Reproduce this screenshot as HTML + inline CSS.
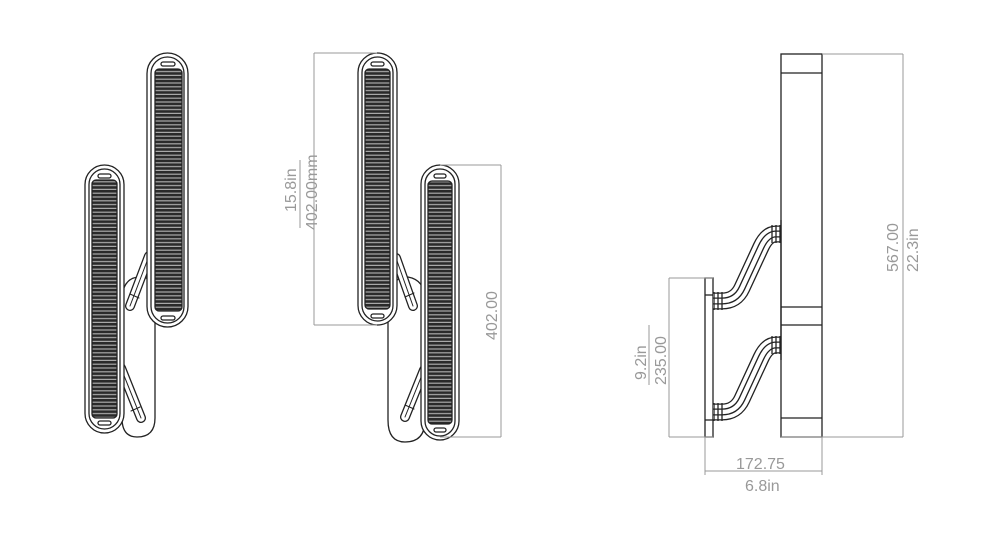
<!DOCTYPE html>
<html><head><meta charset="utf-8"><style>
html,body{margin:0;padding:0;background:#fff;}
svg{display:block;}
text{font-family:"Liberation Sans",sans-serif;fill:#999;}
</style></head><body>
<svg width="1000" height="533" viewBox="0 0 1000 533" xmlns="http://www.w3.org/2000/svg">
<defs>
<pattern id="rib" x="0" y="0" width="10" height="3.8" patternUnits="userSpaceOnUse">
<rect width="10" height="3.8" fill="#aaa"/>
<rect y="0" width="10" height="2.6" fill="#2a2a2a"/>
</pattern>
</defs>
<g fill="none" stroke="#222" stroke-width="1.3">
<!-- LEFT VIEW -->
<path d="M122 295 Q125 277 140 277 Q155 277 155 295 L155 418 Q155 437 137 437 Q122 437 122 418 Z" fill="#fff"/>
<g stroke-linecap="round">
<line x1="149" y1="256" x2="130" y2="306" stroke="#222" stroke-width="10"/>
<line x1="149" y1="256" x2="130" y2="306" stroke="#fff" stroke-width="7.4"/>
<line x1="149" y1="256" x2="130" y2="306" stroke-width="1"/>
<line x1="130" y1="294" x2="139" y2="298" stroke-width="1"/>
<line x1="121" y1="368" x2="141" y2="418" stroke="#222" stroke-width="10"/>
<line x1="121" y1="368" x2="141" y2="418" stroke="#fff" stroke-width="7.4"/>
<line x1="121" y1="368" x2="141" y2="418" stroke-width="1"/>
<line x1="131" y1="411" x2="140" y2="407" stroke-width="1"/>
</g>
<rect x="85" y="165" width="39" height="268" rx="19.5" fill="#fff"/>
<rect x="89" y="169" width="31" height="260" rx="15.5"/>
<rect x="92" y="180" width="25" height="238" rx="4" fill="url(#rib)"/>
<rect x="98" y="174" width="13" height="4" rx="2"/>
<rect x="98" y="421" width="13" height="4" rx="2"/>
<rect x="147" y="53" width="41" height="274" rx="20.5" fill="#fff"/>
<rect x="151" y="57" width="33" height="266" rx="16.5"/>
<rect x="155" y="69" width="27" height="242" rx="4" fill="url(#rib)"/>
<rect x="161" y="62" width="14" height="4" rx="2"/>
<rect x="161" y="316" width="14" height="4" rx="2"/>

<!-- MIDDLE VIEW -->
<path d="M388 295 Q392 277 408 277 Q425 280 425 300 L425 420 Q425 442 405 442 Q388 442 388 420 Z" fill="#fff"/>
<g stroke-linecap="round">
<line x1="396" y1="258" x2="413" y2="306" stroke="#222" stroke-width="10"/>
<line x1="396" y1="258" x2="413" y2="306" stroke="#fff" stroke-width="7.4"/>
<line x1="396" y1="258" x2="413" y2="306" stroke-width="1"/>
<line x1="405" y1="297" x2="414" y2="293" stroke-width="1"/>
<line x1="424" y1="370" x2="405" y2="417" stroke="#222" stroke-width="10"/>
<line x1="424" y1="370" x2="405" y2="417" stroke="#fff" stroke-width="7.4"/>
<line x1="424" y1="370" x2="405" y2="417" stroke-width="1"/>
<line x1="405" y1="405" x2="414" y2="409" stroke-width="1"/>
</g>
<rect x="358" y="53" width="39" height="272" rx="19.5" fill="#fff"/>
<rect x="362" y="57" width="31" height="264" rx="15.5"/>
<rect x="365" y="69" width="25" height="240" rx="4" fill="url(#rib)"/>
<rect x="371" y="62" width="13" height="4" rx="2"/>
<rect x="371" y="314" width="13" height="4" rx="2"/>
<rect x="421" y="165" width="38" height="275" rx="19" fill="#fff"/>
<rect x="425" y="169" width="30" height="267" rx="15"/>
<rect x="428" y="181" width="24" height="243" rx="4" fill="url(#rib)"/>
<rect x="434" y="174" width="12" height="4" rx="2"/>
<rect x="434" y="428" width="12" height="4" rx="2"/>

<!-- RIGHT VIEW -->
<rect x="781" y="54" width="41" height="383" fill="#fff"/>
<line x1="781" y1="73" x2="822" y2="73"/>
<line x1="781" y1="307" x2="822" y2="307"/>
<line x1="781" y1="325" x2="822" y2="325"/>
<line x1="781" y1="418" x2="822" y2="418"/>
<rect x="705" y="278" width="8" height="159" fill="#fff"/>
<line x1="705" y1="295" x2="713" y2="295"/>
<line x1="705" y1="420" x2="713" y2="420"/>
<g id="arm">
<path d="M713 301 L722 301 Q736 301 742 288 L761 247 Q767 234 776 234 L781 234" stroke="#222" stroke-width="17"/>
<path d="M713 301 L722 301 Q736 301 742 288 L761 247 Q767 234 776 234 L781 234" stroke="#fff" stroke-width="14.4"/>
<path d="M713 301 L722 301 Q736 301 742 288 L761 247 Q767 234 776 234 L781 234" stroke="#222" stroke-width="7"/>
<path d="M713 301 L722 301 Q736 301 742 288 L761 247 Q767 234 776 234 L781 234" stroke="#fff" stroke-width="4.4"/>
<line x1="714" y1="292" x2="714" y2="310"/><line x1="718" y1="292" x2="718" y2="310"/><line x1="722" y1="292" x2="722" y2="310"/>
<line x1="772" y1="225" x2="772" y2="243"/><line x1="776" y1="225" x2="776" y2="243"/><line x1="780" y1="225" x2="780" y2="243"/>
</g>
<g transform="translate(0,111)">
<path d="M713 301 L722 301 Q736 301 742 288 L761 247 Q767 234 776 234 L781 234" stroke="#222" stroke-width="17"/>
<path d="M713 301 L722 301 Q736 301 742 288 L761 247 Q767 234 776 234 L781 234" stroke="#fff" stroke-width="14.4"/>
<path d="M713 301 L722 301 Q736 301 742 288 L761 247 Q767 234 776 234 L781 234" stroke="#222" stroke-width="7"/>
<path d="M713 301 L722 301 Q736 301 742 288 L761 247 Q767 234 776 234 L781 234" stroke="#fff" stroke-width="4.4"/>
<line x1="714" y1="292" x2="714" y2="310"/><line x1="718" y1="292" x2="718" y2="310"/><line x1="722" y1="292" x2="722" y2="310"/>
<line x1="772" y1="225" x2="772" y2="243"/><line x1="776" y1="225" x2="776" y2="243"/><line x1="780" y1="225" x2="780" y2="243"/>
</g>
<line x1="781" y1="220" x2="781" y2="360"/>
</g>

<!-- dimensions -->
<g fill="none" stroke="#999" stroke-width="1">
<path d="M314 53 L377 53 M314 325 L377 325 M314 53 L314 325"/>
<path d="M440 165 L501 165 M440 437 L501 437 M501 165 L501 437"/>
<path d="M822 54 L903 54 M781 437 L903 437 M903 54 L903 437"/>
<path d="M669 278 L713 278 M669 437 L713 437 M669 278 L669 437"/>
<path d="M705 437 L705 475 M822 437 L822 475 M705 471 L822 471"/>
<path d="M300 228 L300 160" />
<path d="M649 385 L649 325" />
</g>
<g font-size="16">
<text transform="translate(296,212) rotate(-90)">15.8in</text>
<text transform="translate(317,230) rotate(-90)">402.00mm</text>
<text transform="translate(497,340) rotate(-90)">402.00</text>
<text transform="translate(898,272) rotate(-90)">567.00</text>
<text transform="translate(918,272) rotate(-90)">22.3in</text>
<text transform="translate(646,380) rotate(-90)">9.2in</text>
<text transform="translate(666,385) rotate(-90)">235.00</text>
<text x="736" y="469">172.75</text>
<text x="745" y="491">6.8in</text>
</g>
</svg>
</body></html>
